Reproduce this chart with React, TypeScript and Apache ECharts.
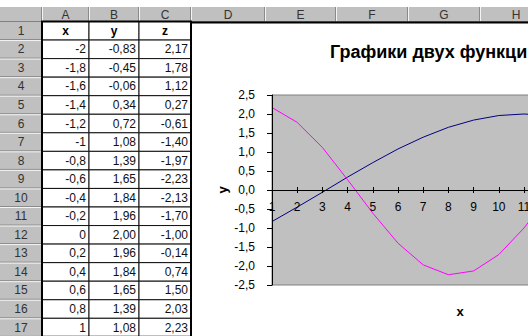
import React, { useEffect, useRef } from 'react';
import * as echarts from 'echarts';

// ---- data ----
const CATEGORIES = ['1', '2', '3', '4', '5', '6', '7', '8', '9', '10', '11', '12', '13', '14', '15', '16'];
const X_VALUES = [-2, -1.8, -1.6, -1.4, -1.2, -1, -0.8, -0.6, -0.4, -0.2, 0, 0.2, 0.4, 0.6, 0.8, 1];
const Y_VALUES = [-0.83, -0.45, -0.06, 0.34, 0.72, 1.08, 1.39, 1.65, 1.84, 1.96, 2.0, 1.96, 1.84, 1.65, 1.39, 1.08];
const Z_VALUES = [2.17, 1.78, 1.12, 0.27, -0.61, -1.4, -1.97, -2.23, -2.13, -1.7, -1.0, -0.14, 0.74, 1.5, 2.03, 2.23];
const COLUMN_LETTERS = ['A', 'B', 'C', 'D', 'E', 'F', 'G', 'H'];
const COLUMN_HEADERS = ['x', 'y', 'z'];
const Y_MIN = -2.5;
const Y_MAX = 2.5;
const Y_STEP = 0.5;
const TITLE = 'Графики двух функций';
const X_TITLE = 'x';
const Y_TITLE = 'y';

// ---- layout ----
const FONT = '"Liberation Sans", Arial, sans-serif';
const COL_EDGES = [0, 42, 89, 139, 191, 265, 336, 408, 480, 552];
const HEAD_TOP = 7;
const HEAD_BOTTOM = 21.5;
const ROW_H = 18.55;
const rowTop = (r: number) => HEAD_BOTTOM + (r - 1) * ROW_H;
const HEADER_GRAY = '#c0c0c0';
const GRID_TOP = 95;
const GRID_H = 190;
// distance from the plot's bottom (and top) edge to the zero line
const ZERO_OFFSET = (GRID_H * (0 - Y_MIN)) / (Y_MAX - Y_MIN);

const fmtX = (v: number) => String(v).replace('.', ',');
const fmt2 = (v: number) => v.toFixed(2).replace('.', ',');

function txt(text: string, x: number, y: number, font: string, align: string, fill = '#000') {
  return {
    type: 'text',
    silent: true,
    style: {
      text,
      x,
      y,
      font,
      fill,
      align,
      textAlign: align,
      verticalAlign: 'middle',
      textVerticalAlign: 'middle',
    },
  };
}

function buildSheet() {
  const els: any[] = [];
  const totalRows = 1 + X_VALUES.length; // header row + data rows
  // header bands
  els.push({ type: 'rect', shape: { x: 0, y: HEAD_TOP, width: 760, height: HEAD_BOTTOM - HEAD_TOP }, style: { fill: HEADER_GRAY } });
  els.push({ type: 'rect', shape: { x: 0, y: HEAD_BOTTOM, width: COL_EDGES[1], height: 400 }, style: { fill: HEADER_GRAY } });
  // column header separators
  for (let i = 1; i < COL_EDGES.length; i++) {
    const x = COL_EDGES[i];
    els.push({ type: 'line', shape: { x1: x - 0.5, y1: HEAD_TOP, x2: x - 0.5, y2: HEAD_BOTTOM }, style: { stroke: '#8a8a8a', lineWidth: 1 } });
    els.push({ type: 'line', shape: { x1: x + 0.5, y1: HEAD_TOP, x2: x + 0.5, y2: HEAD_BOTTOM }, style: { stroke: '#f4f4f4', lineWidth: 1 } });
  }
  els.push({ type: 'line', shape: { x1: 0, y1: HEAD_BOTTOM, x2: 760, y2: HEAD_BOTTOM }, style: { stroke: '#808080', lineWidth: 1 } });
  // column letters
  COLUMN_LETTERS.forEach((c, i) => {
    els.push(txt(c, (COL_EDGES[i + 1] + COL_EDGES[i + 2]) / 2, (HEAD_TOP + HEAD_BOTTOM) / 2 + 0.5, `12px ${FONT}`, 'center', '#333'));
  });
  // row numbers and separators
  for (let r = 1; r <= totalRows; r++) {
    const t = rowTop(r);
    els.push({ type: 'line', shape: { x1: 0, y1: t + ROW_H - 0.5, x2: COL_EDGES[1], y2: t + ROW_H - 0.5 }, style: { stroke: '#8a8a8a', lineWidth: 1 } });
    els.push({ type: 'line', shape: { x1: 0, y1: t + ROW_H + 0.5, x2: COL_EDGES[1], y2: t + ROW_H + 0.5 }, style: { stroke: '#f4f4f4', lineWidth: 1 } });
    els.push(txt(String(r), COL_EDGES[1] / 2, t + ROW_H / 2, `12px ${FONT}`, 'center', '#333'));
  }
  // cells
  for (let r = 1; r <= totalRows; r++) {
    const t = rowTop(r);
    for (let c = 0; c < 3; c++) {
      const x0 = COL_EDGES[c + 1];
      const x1 = COL_EDGES[c + 2];
      els.push({ type: 'rect', shape: { x: x0, y: t, width: x1 - x0, height: ROW_H }, style: { fill: '#fff', stroke: '#111', lineWidth: 1 } });
      if (r === 1) {
        els.push(txt(COLUMN_HEADERS[c], (x0 + x1) / 2, t + ROW_H / 2, `bold 12px ${FONT}`, 'center'));
      } else {
        const i = r - 2;
        const s = c === 0 ? fmtX(X_VALUES[i]) : c === 1 ? fmt2(Y_VALUES[i]) : fmt2(Z_VALUES[i]);
        els.push(txt(s, x1 - 3, t + ROW_H / 2, `12px ${FONT}`, 'right', '#111'));
      }
    }
  }
  // outer thick border of table
  els.push({ type: 'rect', shape: { x: COL_EDGES[1], y: HEAD_BOTTOM, width: COL_EDGES[4] - COL_EDGES[1], height: rowTop(totalRows + 1) - HEAD_BOTTOM }, style: { fill: 'none', stroke: '#000', lineWidth: 2 } });
  // chart object area (white, black border)
  els.push({ type: 'rect', shape: { x: 191, y: 22.5, width: 600, height: 400 }, style: { fill: '#fff', stroke: '#000', lineWidth: 2 } });
  // axis titles
  els.push(txt(X_TITLE, 460, 311, `bold 13px ${FONT}`, 'center'));
  els.push({
    type: 'text',
    silent: true,
    x: 222,
    y: 190,
    rotation: Math.PI / 2,
    style: { text: Y_TITLE, x: 0, y: 0, font: `bold 13px ${FONT}`, fill: '#000', align: 'center', textAlign: 'center', verticalAlign: 'middle', textVerticalAlign: 'middle' },
  });
  return els;
}

export default function App() {
  const ref = useRef<HTMLDivElement>(null);
  useEffect(() => {
    if (!ref.current) return;
    const chart = echarts.init(ref.current, undefined, { renderer: 'svg' });
    const axisLabelStyle = { fontSize: 12, fontFamily: FONT, color: '#000' };
    chart.setOption({
      animation: false,
      backgroundColor: 'transparent',
      graphic: { elements: buildSheet() },
      title: {
        text: TITLE,
        left: 330,
        top: 43,
        padding: 0,
        textStyle: { fontSize: 18, fontWeight: 'bold', fontFamily: FONT, color: '#000' },
      },
      grid: {
        left: 272,
        top: GRID_TOP,
        width: 378,
        height: GRID_H,
        show: true,
        backgroundColor: '#c0c0c0',
        borderColor: '#808080',
        borderWidth: 1,
        z: 3,
      },
      xAxis: [
        {
          type: 'category',
          data: CATEGORIES,
          boundaryGap: false,
          position: 'bottom',
          offset: -ZERO_OFFSET,
          axisLine: { onZero: false, lineStyle: { color: '#000', width: 1 } },
          axisTick: { show: true, length: 3, interval: 0, lineStyle: { color: '#000' } },
          axisLabel: { ...axisLabelStyle, interval: 0, margin: 11 },
          splitLine: { show: false },
          z: 5,
        },
        {
          type: 'category',
          data: CATEGORIES,
          boundaryGap: false,
          position: 'top',
          offset: -(GRID_H - ZERO_OFFSET),
          axisLine: { onZero: false, lineStyle: { color: '#000', width: 1 } },
          axisTick: { show: true, length: 3, interval: 0, lineStyle: { color: '#000' } },
          axisLabel: { show: false },
          splitLine: { show: false },
          z: 5,
        },
      ],
      yAxis: {
        type: 'value',
        min: Y_MIN,
        max: Y_MAX,
        interval: Y_STEP,
        axisLine: { show: true, onZero: false, lineStyle: { color: '#000', width: 1 } },
        axisTick: { show: true, length: 5, lineStyle: { color: '#000' } },
        axisLabel: { ...axisLabelStyle, margin: 17, formatter: (v: number) => v.toFixed(1).replace('.', ',') },
        splitLine: { show: false },
        z: 5,
      },
      series: [
        {
          name: 'y',
          type: 'line',
          data: Y_VALUES,
          symbol: 'none',
          lineStyle: { color: '#000080', width: 1 },
          z: 4,
        },
        {
          name: 'z',
          type: 'line',
          data: Z_VALUES,
          symbol: 'none',
          lineStyle: { color: '#ff00ff', width: 1 },
          z: 4,
        },
      ],
    });
    return () => chart.dispose();
  }, []);
  return (
    <div style={{ position: 'fixed', left: 0, top: 0, width: 528, height: 336, overflow: 'hidden', background: '#fff' }}>
      <div ref={ref} style={{ width: 760, height: 336 }} />
    </div>
  );
}
